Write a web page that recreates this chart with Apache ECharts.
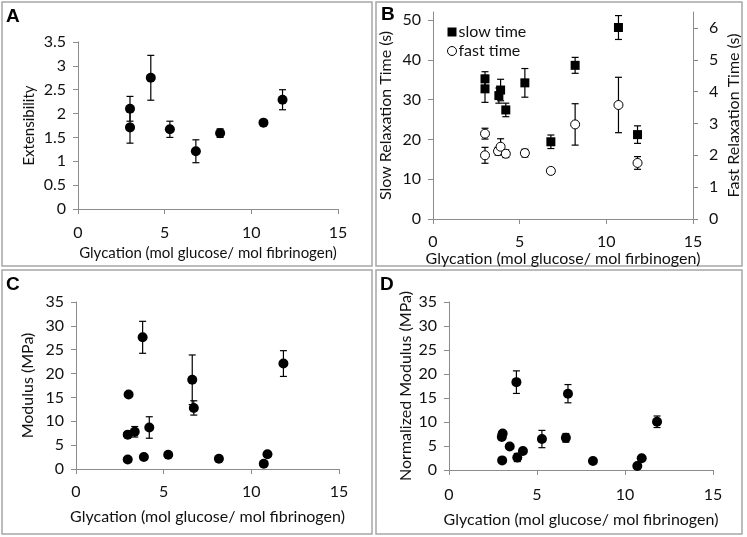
<!DOCTYPE html>
<html>
<head>
<meta charset="utf-8">
<script src="https://cdn.jsdelivr.net/npm/echarts@6/dist/echarts.min.js"></script>
<style>html,body{margin:0;padding:0;background:#fff;}#c{width:747px;height:537px;}</style>
</head>
<body>
<div id="c"></div>
<script>
// Panel A: extensibility
var A_x   = [3.0, 3.0, 4.2, 5.3, 6.8, 8.2, 10.7, 11.8];
var A_y   = [2.1, 1.71, 2.75, 1.67, 1.21, 1.59, 1.81, 2.29];
var A_err = [0.26, 0.33, 0.47, 0.17, 0.24, 0.09, 0.05, 0.21];
// Panel B: slow relaxation (left axis)
var Bs_x   = [3.0, 3.0, 3.8, 3.9, 4.2, 5.3, 6.8, 8.2, 10.7, 11.8];
var Bs_y   = [35.2, 32.7, 31.0, 32.4, 27.4, 34.2, 19.4, 38.6, 48.1, 21.2];
var Bs_err = [1.8, 3.4, 1.9, 2.7, 1.7, 3.6, 1.7, 2.0, 3.0, 2.2];
// Panel B: fast relaxation (right axis)
var Bf_x   = [3.0, 3.0, 3.75, 3.9, 4.2, 5.3, 6.8, 8.2, 10.7, 11.8];
var Bf_y   = [2.68, 2.0, 2.13, 2.27, 2.05, 2.07, 1.51, 2.97, 3.58, 1.76];
var Bf_err = [0.17, 0.25, 0.12, 0.25, 0.12, 0.12, 0.08, 0.65, 0.87, 0.2];
// Panel C: modulus
var C_x   = [2.95, 2.95, 3.0, 3.35, 3.8, 3.87, 4.18, 5.26, 6.63, 6.72, 8.15, 10.71, 10.92, 11.83];
var C_y   = [2.0, 7.2, 15.6, 7.8, 27.6, 2.5, 8.7, 3.0, 18.7, 12.8, 2.15, 1.1, 3.1, 22.1];
var C_err = [0.6, 0.5, 0, 1.1, 3.35, 0.3, 2.25, 0.3, 5.2, 1.5, 0.3, 0.3, 0.3, 2.7];
// Panel D: normalized modulus
var D_x   = [3.0, 3.05, 3.02, 3.45, 3.83, 3.88, 4.2, 5.28, 6.64, 6.76, 8.18, 10.7, 10.95, 11.82];
var D_y   = [6.9, 7.6, 2.0, 4.9, 18.3, 2.6, 3.95, 6.45, 6.7, 15.9, 1.87, 0.83, 2.43, 10.05];
var D_err = [0.4, 0.4, 0.3, 0.3, 2.35, 0.85, 0.3, 1.8, 0.9, 1.9, 0.2, 0.2, 0.2, 1.2];

var B_leftTicks = [0, 10, 20, 30, 40, 50];
var B_rightTicks = [0, 1, 2, 3, 4, 5, 6];

var xTitleA = 'Glycation (mol glucose/ mol fibrinogen)';
var xTitleB = 'Glycation (mol glucose/ mol firbinogen)';

function zip(xs, ys, es) { return xs.map(function (x, i) { return [x, ys[i], es[i]]; }); }

var FONT = 'Lato';
var AXC = '#8c8c8c';
var TXT = '#111111';
var TICKFS = 16;

function xAxis(gi, name, gap, margin, fs) {
  return {
    type: 'value', gridIndex: gi, min: 0, max: 15, interval: 5,
    name: name, nameLocation: 'middle', nameGap: gap,
    nameTextStyle: { fontFamily: FONT, fontSize: fs, color: TXT },
    axisLine: { show: true, onZero: false, lineStyle: { color: AXC, width: 1 } },
    axisTick: { show: true, inside: false, length: 5, lineStyle: { color: AXC } },
    axisLabel: { fontFamily: FONT, fontSize: TICKFS, color: TXT, margin: margin },
    splitLine: { show: false }
  };
}
function yAxis(gi, name, max, interval, gap, fs, extra) {
  var o = {
    type: 'value', gridIndex: gi, min: 0, max: max, interval: interval,
    name: name, nameLocation: 'middle', nameGap: gap,
    nameTextStyle: { fontFamily: FONT, fontSize: fs, color: TXT },
    axisLine: { show: true, lineStyle: { color: AXC, width: 1 } },
    axisTick: { show: true, inside: false, length: 5, lineStyle: { color: AXC } },
    axisLabel: { fontFamily: FONT, fontSize: TICKFS, color: TXT, margin: 12 },
    splitLine: { show: false }
  };
  if (extra) { for (var k in extra) o[k] = extra[k]; }
  return o;
}

function errSeries(xi, yi, data, name) {
  return {
    type: 'custom', xAxisIndex: xi, yAxisIndex: yi, data: data, clip: false, z: 2,
    name: name, legendHoverLink: false,
    encode: { x: 0, y: 1 },
    renderItem: function (params, api) {
      var x = api.value(0), y = api.value(1), e = api.value(2);
      if (!e) return null;
      var t = api.coord([x, y + e]), b = api.coord([x, y - e]);
      var w = 3.5;
      var st = { stroke: '#000', lineWidth: 1.2 };
      return {
        type: 'group', children: [
          { type: 'line', shape: { x1: t[0], y1: t[1], x2: b[0], y2: b[1] }, style: st },
          { type: 'line', shape: { x1: t[0] - w, y1: t[1], x2: t[0] + w, y2: t[1] }, style: st },
          { type: 'line', shape: { x1: b[0] - w, y1: b[1], x2: b[0] + w, y2: b[1] }, style: st }
        ]
      };
    }
  };
}
function dotSeries(xi, yi, data, name, symbol, size, filled) {
  return {
    type: 'scatter', name: name, xAxisIndex: xi, yAxisIndex: yi, data: data, z: 3,
    symbol: symbol, symbolSize: size,
    itemStyle: filled ? { color: '#000', opacity: 1 } : { color: '#fff', borderColor: '#000', borderWidth: 1, opacity: 1 },
    emphasis: { disabled: true }
  };
}

var chart = echarts.init(document.getElementById('c'), null, { renderer: 'canvas' });
var panelStyle = { fill: 'none', stroke: '#a6a6a6', lineWidth: 1.5 };
var letterStyle = { fontFamily: 'Liberation Sans', fontWeight: 'bold', fontSize: 19, fill: '#000' };

chart.setOption({
  animation: false,
  backgroundColor: '#fff',
  graphic: [
    { type: 'rect', shape: { x: 2, y: 2, width: 370, height: 264 }, style: panelStyle, silent: true },
    { type: 'rect', shape: { x: 376, y: 2, width: 366, height: 264 }, style: panelStyle, silent: true },
    { type: 'rect', shape: { x: 2, y: 270, width: 370, height: 264 }, style: panelStyle, silent: true },
    { type: 'rect', shape: { x: 376, y: 270, width: 366, height: 264 }, style: panelStyle, silent: true },
    { type: 'text', left: 6, top: 7, style: Object.assign({ text: 'A' }, letterStyle) },
    { type: 'text', left: 381, top: 5, style: Object.assign({ text: 'B' }, letterStyle) },
    { type: 'text', left: 6, top: 275, style: Object.assign({ text: 'C' }, letterStyle) },
    { type: 'text', left: 380, top: 275, style: Object.assign({ text: 'D' }, letterStyle) }
  ],
  legend: {
    orient: 'vertical', left: 442, top: 19, itemGap: 3,
    itemWidth: 9, itemHeight: 9,
    data: [
      { name: 'slow time', icon: 'rect' },
      { name: 'fast time', icon: 'circle', itemStyle: { color: '#fff', borderColor: '#000', borderWidth: 1 } }
    ],
    textStyle: { fontFamily: FONT, fontSize: 16, color: TXT, padding: [0, 0, 0, -3] },
    selectedMode: false
  },
  grid: [
    { left: 78, top: 42, width: 260, height: 167 },
    { left: 433, top: 12, width: 260, height: 207 },
    { left: 76, top: 302, width: 263, height: 167 },
    { left: 449, top: 302, width: 264, height: 168 }
  ],
  xAxis: [
    xAxis(0, xTitleA, 37, 16, 15),
    xAxis(1, xTitleB, 26, 15, 16),
    xAxis(2, xTitleA, 40, 15, 16),
    xAxis(3, xTitleA, 42, 17, 16)
  ],
  yAxis: [
    yAxis(0, 'Extensibility', 3.5, 0.5, 41, 15),
    yAxis(1, 'Slow Relaxation Time (s)', 52, 10, 39, 16, {
      axisLabel: { fontFamily: FONT, fontSize: TICKFS, color: TXT, margin: 12, customValues: B_leftTicks },
      axisTick: { show: true, length: 5, lineStyle: { color: AXC }, customValues: B_leftTicks }
    }),
    yAxis(1, 'Fast Relaxation Time (s)', 6.5, 1, 33, 16, {
      position: 'right',
      axisLabel: { fontFamily: FONT, fontSize: TICKFS, color: TXT, margin: 16, customValues: B_rightTicks },
      axisTick: { show: true, length: 5, lineStyle: { color: AXC }, customValues: B_rightTicks }
    }),
    yAxis(2, 'Modulus (MPa)', 35, 5, 40, 16),
    yAxis(3, 'Normalized Modulus (MPa)', 35, 5, 35, 16)
  ],
  series: [
    errSeries(0, 0, zip(A_x, A_y, A_err), 'A err'),
    dotSeries(0, 0, zip(A_x, A_y, A_err), 'A', 'circle', 10, true),
    errSeries(1, 1, zip(Bs_x, Bs_y, Bs_err), 'slow err'),
    dotSeries(1, 1, zip(Bs_x, Bs_y, Bs_err), 'slow time', 'rect', 9, true),
    errSeries(1, 2, zip(Bf_x, Bf_y, Bf_err), 'fast err'),
    dotSeries(1, 2, zip(Bf_x, Bf_y, Bf_err), 'fast time', 'circle', 9, false),
    errSeries(2, 3, zip(C_x, C_y, C_err), 'C err'),
    dotSeries(2, 3, zip(C_x, C_y, C_err), 'C', 'circle', 10, true),
    errSeries(3, 4, zip(D_x, D_y, D_err), 'D err'),
    dotSeries(3, 4, zip(D_x, D_y, D_err), 'D', 'circle', 10, true)
  ]
});
</script>
</body>
</html>
